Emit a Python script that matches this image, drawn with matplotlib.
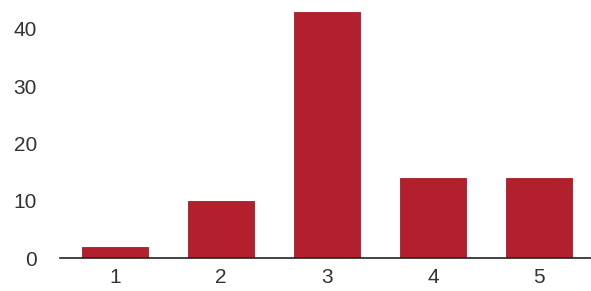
import matplotlib
matplotlib.use("Agg")
import matplotlib.pyplot as plt

categories = ["1", "2", "3", "4", "5"]
values = [2, 10, 43, 14, 14]
yticks = [0, 10, 20, 30, 40]

plt.rcParams['font.family'] = ['Liberation Sans', 'DejaVu Sans']
fig = plt.figure(figsize=(5.91, 2.91), dpi=100)
ax = fig.add_axes([60/591, 33/291, 531/591, 252/291])
x = list(range(1, len(categories) + 1))
ax.bar(x, values, width=0.62, color="#b21f2d", edgecolor="#a51a28", linewidth=0.6, zorder=2)
ax.set_xlim(0.48, 5.49)
ax.set_ylim(0, 44)
ax.set_xticks(x)
ax.set_xticklabels(categories)
ax.set_yticks(yticks)
for s in ["top", "right", "left"]:
    ax.spines[s].set_visible(False)
ax.spines["bottom"].set_color("#222222")
ax.spines["bottom"].set_linewidth(1.2)
ax.spines["bottom"].set_zorder(3)
ax.tick_params(axis="both", length=0, labelsize=15, colors="#333333")
ax.tick_params(axis="y", pad=16.5)
ax.tick_params(axis="x", pad=7)
fig.savefig("out.png", dpi=100)
